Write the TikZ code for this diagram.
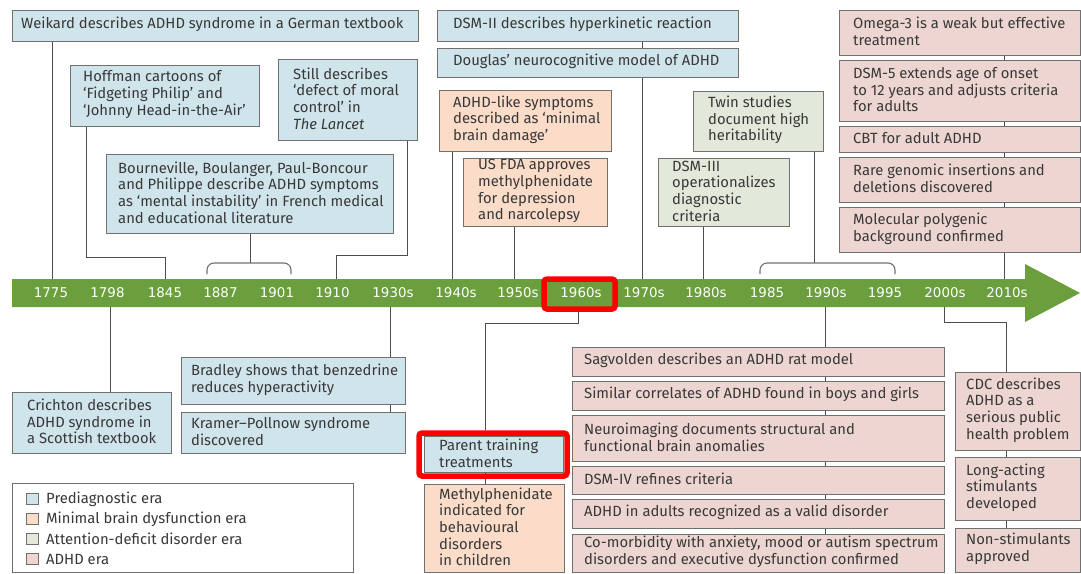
\documentclass[tikz,border=0pt]{standalone}
\usepackage{fontspec}
\setmainfont{Fira Sans}
\newfontfamily\yrfont{DejaVu Sans}
\definecolor{preC}{HTML}{D0E4EB}
\definecolor{mbdC}{HTML}{FADCC9}
\definecolor{addC}{HTML}{E2E9DA}
\definecolor{adhdC}{HTML}{EDD6D1}
\definecolor{edgeC}{HTML}{707070}
\definecolor{lineC}{HTML}{4D4D4D}
\definecolor{barC}{HTML}{6B9E3C}
\definecolor{txtC}{HTML}{383838}
\definecolor{hlC}{HTML}{FF0000}
\tikzset{
  ebox/.style={draw=edgeC, line width=1.1pt, inner sep=0pt, anchor=north west},
  txt/.style={text=txtC, font=\fontsize{14.8}{16.7}\selectfont, align=left, inner sep=0pt, anchor=west},
  yr/.style={text=white, font=\yrfont\fontsize{13.4}{15}\selectfont, inner sep=0pt},
  conn/.style={draw=lineC, line width=0.9pt},
  brk/.style={draw=lineC!80, line width=1.1pt, rounded corners=7pt},
  hl/.style={draw=hlC, line width=5.5pt, rounded corners=3pt, inner sep=0pt},
  legsq/.style={draw=edgeC, line width=0.8pt, minimum width=12pt, minimum height=11pt, inner sep=0pt},
}
\newcommand\tbox[8]{%
  \node[ebox, fill=#2, minimum width={#5-#3}, minimum height={#6-#4}] (#1) at (#3,#4) {};
  \node[txt] (#1-t) at ([xshift=#7pt, yshift=1.5pt]#1.west) {#8};}
\begin{document}
\begin{tikzpicture}[x=1pt,y=-1pt]
\useasboundingbox (0,0) rectangle (1081,573);
\fill[white] (0,0) rectangle (1081,573);

% timeline bar
\fill[barC] (12,279) -- (1025,279) -- (1025,264) -- (1080,293) -- (1025,322) -- (1025,307) -- (12,307) -- cycle;
\coordinate (barT) at (0,279);
\coordinate (barB) at (0,307);

% year labels
\foreach \n/\x/\t in {y1775/51/1775, y1798/107.5/1798, y1845/165/1845, y1887/220.5/1887, y1901/277/1901, y1910/332.5/1910, y1930/393/1930s, y1940/456/1940s, y1950/518/1950s, y1960/581/1960s, y1970/644/1970s, y1980/706/1980s, y1985/767/1985, y1990/826/1990s, y1995/885/1995, y2000/945/2000s, y2010/1007/2010s}
  \node[yr] (\n) at (\x,293) {\t};

% connector columns
\coordinate (c1775) at (52,0);
\coordinate (c1798) at (110.5,0);
\coordinate (c1845) at (165,0);
\coordinate (ehof) at (86,257);
\coordinate (estill) at (407,255);
\coordinate (c1910) at (336,0);
\coordinate (c1930) at (390,0);
\coordinate (c1940) at (452.6,0);
\coordinate (c1950) at (514,0);
\coordinate (c1960) at (578,0);
\coordinate (e1960) at (485,323);
\coordinate (c1970) at (642,0);
\coordinate (c1980) at (703,0);
\coordinate (ctwin) at (814,0);
\coordinate (c1990) at (825.5,0);
\coordinate (c2000) at (944,0);
\coordinate (e2000) at (1006,322);
\coordinate (c2010) at (1004,0);
\coordinate (brkT) at (0,263);

% boxes above
\tbox{weikard}{preC}{12}{10}{418}{41}{9}{Weikard describes ADHD syndrome in a German textbook}
\tbox{hoffman}{preC}{70}{65}{259}{126}{13}{Hoffman cartoons of\\‘Fidgeting Philip’ and\\‘Johnny Head-in-the-Air’}
\tbox{still}{preC}{278}{59}{417}{140}{15}{Still describes\\‘defect of moral\\control’ in\\\textit{The Lancet}}
\tbox{bourn}{preC}{106}{154}{393}{233}{12}{Bourneville, Boulanger, Paul-Boncour\\and Philippe describe ADHD symptoms\\as ‘mental instability’ in French medical\\and educational literature}
\tbox{dsm2}{preC}{437}{10}{738}{41}{16}{DSM-II describes hyperkinetic reaction}
\tbox{douglas}{preC}{437}{48}{738}{77}{16}{Douglas’ neurocognitive model of ADHD}
\tbox{adhdlike}{mbdC}{439}{90}{611}{151}{14}{ADHD-like symptoms\\described as ‘minimal\\brain damage’}
\tbox{fda}{mbdC}{463}{158}{607}{226}{15}{US FDA approves\\methylphenidate\\for depression\\and narcolepsy}
\tbox{twin}{addC}{693}{91}{823}{151}{15}{Twin studies\\document high\\heritability}
\tbox{dsm3}{addC}{658}{158}{789}{226}{14}{DSM-III\\operationalizes\\diagnostic\\criteria}
\tbox{omega}{adhdC}{839}{10}{1080}{55}{14}{Omega-3 is a weak but effective\\treatment}
\tbox{dsm5}{adhdC}{839}{60}{1080}{121}{14}{DSM-5 extends age of onset\\to 12 years and adjusts criteria\\for adults}
\tbox{cbt}{adhdC}{839}{126}{1080}{152}{14}{CBT for adult ADHD}
\tbox{rare}{adhdC}{839}{157}{1080}{202}{14}{Rare genomic insertions and\\deletions discovered}
\tbox{molec}{adhdC}{839}{207}{1080}{252}{14}{Molecular polygenic\\background confirmed}

% boxes below
\tbox{crichton}{preC}{12}{392}{171}{453}{15}{Crichton describes\\ADHD syndrome in\\a Scottish textbook}
\tbox{bradley}{preC}{181}{357}{405}{404}{10}{Bradley shows that benzedrine\\reduces hyperactivity}
\tbox{kramer}{preC}{181}{412}{405}{453}{10}{Kramer–Pollnow syndrome\\discovered}
\tbox{parent}{preC}{424}{436}{563}{472}{15}{Parent training\\treatments}
\tbox{methyl}{mbdC}{424}{484}{564}{571.5}{15}{Methylphenidate\\indicated for\\behavioural\\disorders\\in children}
\tbox{sagv}{adhdC}{572}{347}{944}{376}{12}{Sagvolden describes an ADHD rat model}
\tbox{similar}{adhdC}{572}{381}{944}{410}{12}{Similar correlates of ADHD found in boys and girls}
\tbox{neuro}{adhdC}{572}{415}{944}{461}{12}{Neuroimaging documents structural and\\functional brain anomalies}
\tbox{dsm4}{adhdC}{572}{466}{944}{494}{12}{DSM-IV refines criteria}
\tbox{adults}{adhdC}{572}{499}{944}{528}{12}{ADHD in adults recognized as a valid disorder}
\tbox{comorb}{adhdC}{572}{534}{944}{571.5}{12}{Co-morbidity with anxiety, mood or autism spectrum\\disorders and executive dysfunction confirmed}
\tbox{cdc}{adhdC}{955}{372}{1080}{450}{11}{CDC describes\\ADHD as a\\serious public\\health problem}
\tbox{longact}{adhdC}{955}{457}{1080}{520}{11}{Long-acting\\stimulants\\developed}
\tbox{nonstim}{adhdC}{955}{528}{1080}{571.5}{11}{Non-stimulants\\approved}

% connectors above the bar
\draw[conn] (weikard.south -| c1775) -- (c1775 |- barT);
\draw[conn] (hoffman.south -| ehof) -- (ehof) -| (c1845 |- barT);
\draw[conn] (still.south -| estill) -- (estill) -| (c1910 |- barT);
\draw[conn] (bourn.south) -- (bourn.south |- brkT);
\draw[brk] (207,274) -- (207,263) -- (291,263) -- (291,274);
\draw[conn] (dsm2.south -| c1970) -- (douglas.north -| c1970);
\draw[conn] (douglas.south -| c1970) -- (c1970 |- barT);
\draw[conn] (adhdlike.south -| c1940) -- (c1940 |- barT);
\draw[conn] (fda.south -| c1950) -- (c1950 |- barT);
\draw[conn] (dsm3.south -| c1980) -- (c1980 |- barT);
\draw[conn] (twin.south -| ctwin) -- (ctwin |- brkT);
\draw[brk] (760,274) -- (760,263) -- (895,263) -- (895,274);
\foreach \a/\b in {omega/dsm5, dsm5/cbt, cbt/rare, rare/molec}
  \draw[conn] (\a.south -| c2010) -- (\b.north -| c2010);
\draw[conn] (molec.south -| c2010) -- (c2010 |- barT);

% connectors below the bar
\draw[conn] (c1798 |- barB) -- (crichton.north -| c1798);
\draw[conn] (c1930 |- barB) -- (bradley.north -| c1930);
\draw[conn] (bradley.south -| c1930) -- (kramer.north -| c1930);
\foreach \a/\b in {sagv/similar, similar/neuro, neuro/dsm4, dsm4/adults, adults/comorb}
  \draw[conn] (\a.south -| c1990) -- (\b.north -| c1990);
\draw[conn] (c1990 |- barB) -- (sagv.north -| c1990);
\draw[conn] (c2000 |- barB) |- (e2000) -- (cdc.north -| e2000);
\draw[conn] (cdc.south -| e2000) -- (longact.north -| e2000);
\draw[conn] (longact.south -| e2000) -- (nonstim.north -| e2000);

% highlights
\node[hl, minimum width=71pt, minimum height=30pt] (r1960) at (579.5,294) {};
\node[hl, minimum width=148pt, minimum height=43pt] (rpar) at (493,454.5) {};
\draw[conn] (r1960.south -| c1960) |- (e1960) -- (rpar.north -| e1960);
\draw[conn] (parent.south -| e1960) -- (methyl.north -| e1960);

% legend
\node[ebox, fill=white, line width=1pt, minimum width=341pt, minimum height=89pt] (legend) at (12,483) {};
\foreach \n/\c/\y/\t in {lg1/preC/499/Prediagnostic era, lg2/mbdC/519/Minimal brain dysfunction era, lg3/addC/539/Attention-deficit disorder era, lg4/adhdC/559/ADHD era}{
  \node[legsq, fill=\c] (\n-sq) at (32.5,\y) {};
  \node[txt] (\n) at (46,\y) {\t};
}
\end{tikzpicture}
\end{document}
